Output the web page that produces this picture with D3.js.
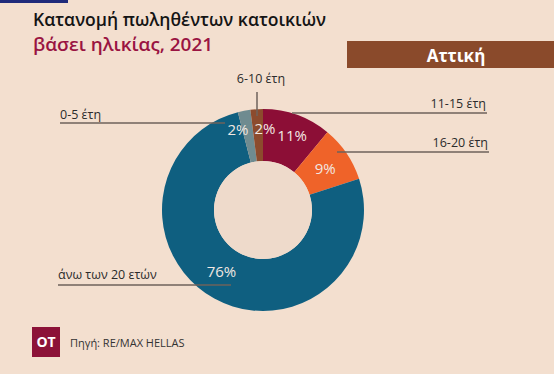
<!DOCTYPE html>
<html>
<head>
<meta charset="utf-8">
<script src="https://cdn.jsdelivr.net/npm/d3@7"></script>
<style>
  body { margin: 0; background: #f3dfcf; }
  svg { display: block; font-family: "Open Sans", sans-serif; }
</style>
</head>
<body>
<script>
// data
var categories = ["11-15 έτη", "16-20 έτη", "άνω των 20 ετών", "0-5 έτη", "6-10 έτη"];
var values = [11, 9, 76, 2, 2];
var colors = ["#8c0e36", "#ef6329", "#0f5f80", "#6f8b90", "#8c4b2d"];

var width = 554, height = 374;
var cx = 263, cy = 210, outerR = 101, innerR = 49;

var svg = d3.select("body").append("svg")
  .attr("width", width)
  .attr("height", height);

svg.append("rect").attr("width", width).attr("height", height).attr("fill", "#f3dfcf");

// top accent line
svg.append("rect").attr("x", 0).attr("y", 0).attr("width", 68).attr("height", 3).attr("fill", "#1f2a7a");

svg.append("text")
  .attr("x", 33).attr("y", 26)
  .attr("font-size", 18).attr("font-weight", 600).attr("fill", "#141414")
  .attr("textLength", 293).attr("lengthAdjust", "spacingAndGlyphs")
  .text("Κατανομή πωληθέντων κατοικιών");
svg.append("text")
  .attr("x", 33).attr("y", 51)
  .attr("font-size", 18).attr("font-weight", 600).attr("fill", "#9a1442")
  .attr("textLength", 180).attr("lengthAdjust", "spacingAndGlyphs")
  .text("βάσει ηλικίας, 2021");

// region box
svg.append("rect").attr("x", 347).attr("y", 41).attr("width", 207).attr("height", 27).attr("fill", "#8a4a2b");
svg.append("text")
  .attr("x", 456).attr("y", 62).attr("text-anchor", "middle")
  .attr("font-size", 17).attr("font-weight", 700).attr("fill", "#fff")
  .text("Αττική");

// donut
var pie = d3.pie().sort(null).value(function(d) { return d; });
var arcs = pie(values);
var arc = d3.arc().innerRadius(innerR).outerRadius(outerR);
var labelArc = d3.arc().innerRadius(80).outerRadius(80);

var g = svg.append("g").attr("transform", "translate(" + cx + "," + cy + ")");

g.selectAll("path.slice")
  .data(arcs)
  .enter()
  .append("path")
  .attr("class", "slice")
  .attr("d", arc)
  .attr("fill", function(d, i) { return colors[i]; });

g.append("circle").attr("r", innerR).attr("fill", "#eedacb");

// small nudges so the thin slices' labels don't collide
var pctShift = [[2, 1], [-4, 4], [-3, -8], [-10, -2], [7, -1]];
g.selectAll("text.pct")
  .data(arcs)
  .enter()
  .append("text")
  .attr("class", "pct")
  .attr("x", function(d, i) { return labelArc.centroid(d)[0] + pctShift[i][0]; })
  .attr("y", function(d, i) { return labelArc.centroid(d)[1] + pctShift[i][1]; })
  .attr("dy", "0.35em")
  .attr("text-anchor", "middle")
  .attr("font-size", 15)
  .attr("fill", "#f2e8e2")
  .text(function(d) { return d.data + "%"; });

// leader lines and category labels
var lineColor = "#6e625b";
function leader(x1, y1, x2, y2) {
  svg.append("line")
    .attr("x1", x1).attr("y1", y1).attr("x2", x2).attr("y2", y2)
    .attr("stroke", lineColor).attr("stroke-width", 1.5);
}
function label(txt, x, y, anchor) {
  svg.append("text")
    .attr("x", x).attr("y", y).attr("text-anchor", anchor)
    .attr("font-size", 12.5).attr("fill", "#2b2b2b")
    .text(txt);
}

leader(292, 113, 487, 113);
label(categories[0], 486, 108, "end");

leader(337, 152, 489, 152);
label(categories[1], 488, 147, "end");

leader(58, 285, 231, 285);
label(categories[2], 58, 279, "start");

leader(60, 123, 225, 123);
label(categories[3], 60, 119, "start");

leader(257, 92, 257, 116);
label(categories[4], 261, 83, "middle");

// footer
svg.append("rect").attr("x", 32).attr("y", 327).attr("width", 28).attr("height", 30).attr("fill", "#8c1238");
svg.append("text")
  .attr("x", 46).attr("y", 347).attr("text-anchor", "middle")
  .attr("font-size", 14).attr("font-weight", 700).attr("fill", "#fff")
  .text("OT");
svg.append("text")
  .attr("x", 70).attr("y", 347)
  .attr("font-size", 11).attr("fill", "#333")
  .text("Πηγή: RE/MAX HELLAS");
</script>
</body>
</html>
